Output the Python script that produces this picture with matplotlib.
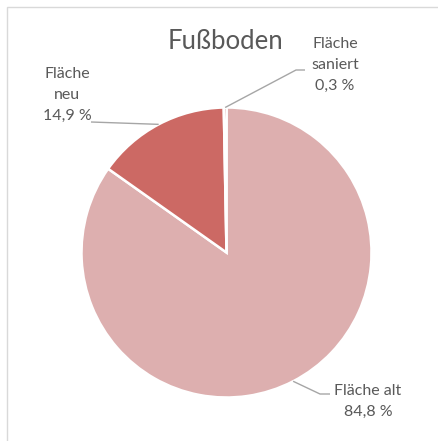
import numpy as np
import matplotlib
matplotlib.use("Agg")
import matplotlib.pyplot as plt
from matplotlib.patches import Rectangle

labels = ["Fläche alt", "Fläche neu", "Fläche saniert"]
values = [84.8, 14.9, 0.3]
value_labels = ["84,8 %", "14,9 %", "0,3 %"]
label_texts = ["Fläche alt\n84,8 %", "Fläche\nneu\n14,9 %", "Fläche\nsaniert\n0,3 %"]
colors = ["#DDAFAF", "#CC6964", "#B0302C"]
title = "Fußboden"

W, H = 439, 441
fig = plt.figure(figsize=(W / 100, H / 100), dpi=100)
ax = fig.add_axes([0, 0, 1, 1])
ax.set_xlim(0, W)
ax.set_ylim(0, H)
ax.set_aspect("equal")
ax.axis("off")

font = "Lato"
gray = "#595959"
cx, cy, r = 226.5, H - 252.5, 145
start = 90
wedges, _ = ax.pie(values, colors=colors, startangle=start, counterclock=False,
                   center=(cx, cy), radius=r,
                   wedgeprops=dict(edgecolor="white", linewidth=1.8))
ax.set_xlim(0, W)
ax.set_ylim(0, H)

# frame
fig.patches.append(Rectangle((7 / W, -0.1), 1.2, (H - 7) / H + 0.1, transform=fig.transFigure,
                             fill=False, edgecolor="#D9D9D9", linewidth=1.0))

ax.text(226, H - 41, title, ha="center", va="center", fontsize=18.5, color=gray, family=font)

# label layout: (text center x, text center y in pixel from top, leader path from top)
layout = [
    dict(xy=(368, 401), path=[(320, 394), (330, 394)]),
    dict(xy=(67, 95), path=[(91, 122)]),
    dict(xy=(335, 65), path=[(296, 70), (305, 70)]),
]
for w, txt, lay in zip(wedges, label_texts, layout):
    mid = np.deg2rad((w.theta1 + w.theta2) / 2)
    ax0 = cx + r * np.cos(mid)
    ay0 = cy + r * np.sin(mid)
    xs = [ax0] + [p[0] for p in lay["path"]]
    ys = [ay0] + [H - p[1] for p in lay["path"]]
    ax.plot(xs, ys, color="#A6A6A6", linewidth=1.0, solid_capstyle="butt")
    ax.text(lay["xy"][0], H - lay["xy"][1], txt, ha="center", va="center",
            fontsize=11.5, color=gray, family=font, linespacing=1.62)

fig.savefig("out.png", dpi=100)
